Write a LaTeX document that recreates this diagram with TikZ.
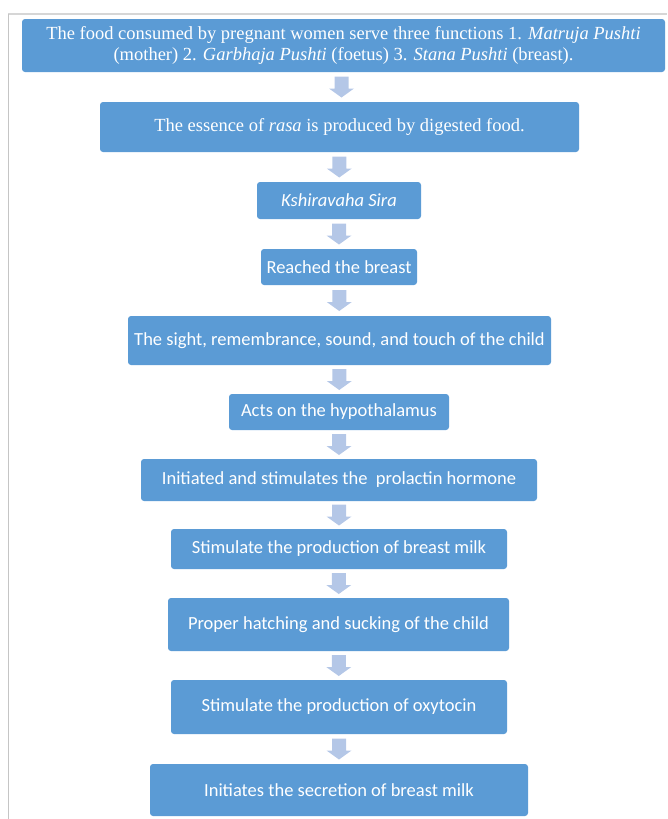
\documentclass[tikz,border=0pt]{standalone}
\usepackage{fontspec}
\setmainfont{Carlito}
\newfontfamily\timesfont{Liberation Serif}

\definecolor{boxblue}{RGB}{91,155,213}
\definecolor{arrowblue}{RGB}{180,199,231}
\definecolor{rulegray}{RGB}{214,214,214}

\tikzset{
  stepbox/.style={fill=boxblue, rounded corners=3pt, text=white, inner sep=0pt,
    align=center, font=\fontsize{18.5}{21}\selectfont},
  pics/downarrow/.style={code={
    \fill[arrowblue] (-7,-10.5) -- (7,-10.5) -- (7,1.5) -- (12.5,1.5) -- (0,10.5)
      -- (-12.5,1.5) -- (-7,1.5) -- cycle;}}
}

\begin{document}
\begin{tikzpicture}[x=1pt, y=-1pt]
  \useasboundingbox (0,0) rectangle (667,819);

  \draw[rulegray, line width=1.5pt] (8,14) -- (667,14);
  \draw[rulegray!80!gray] (8,14) -- (8,819);

  \node[stepbox, minimum width=643pt, minimum height=53pt] (food) at (343.5,45.5)
    {\timesfont The food consumed by pregnant women serve three functions 1. \textit{Matruja Pushti}\\
     \timesfont (mother) 2. \textit{Garbhaja Pushti} (foetus) 3. \textit{Stana Pushti} (breast).};
  \node[stepbox, minimum width=479pt, minimum height=50pt] (rasa) at (339.5,127)
    {\timesfont The essence of \textit{rasa} is produced by digested food.};
  \node[stepbox, minimum width=164pt, minimum height=37pt] (sira) at (339,200.5)
    {\textit{Kshiravaha Sira}};
  \node[stepbox, minimum width=156pt, minimum height=36pt] (breast) at (339,267)
    {Reached the breast};
  \node[stepbox, minimum width=423pt, minimum height=49pt] (sight) at (339.5,340.5)
    {The sight, remembrance, sound, and touch of the child};
  \node[stepbox, minimum width=220pt, minimum height=36pt] (hypo) at (339,412)
    {Acts on the hypothalamus};
  \node[stepbox, minimum width=396pt, minimum height=42pt] (prolactin) at (339,480)
    {Initiated and stimulates the\ \ prolactin hormone};
  \node[stepbox, minimum width=336pt, minimum height=40pt] (milk) at (339,549)
    {Stimulate the production of breast milk};
  \node[stepbox, minimum width=341pt, minimum height=53pt] (suck) at (338.5,624.5)
    {Proper hatching and sucking of the child};
  \node[stepbox, minimum width=336pt, minimum height=54pt] (oxy) at (339,707)
    {Stimulate the production of oxytocin};
  \node[stepbox, minimum width=378pt, minimum height=52pt] (secretion) at (339,790)
    {Initiates the secretion of breast milk};

  \path (food.south) -- (rasa.north) pic[midway] {downarrow};
  \path (rasa.south) -- (sira.north) pic[midway] {downarrow};
  \path (sira.south) -- (breast.north) pic[midway] {downarrow};
  \path (breast.south) -- (sight.north) pic[midway] {downarrow};
  \path (sight.south) -- (hypo.north) pic[midway] {downarrow};
  \path (hypo.south) -- (prolactin.north) pic[midway] {downarrow};
  \path (prolactin.south) -- (milk.north) pic[midway] {downarrow};
  \path (milk.south) -- (suck.north) pic[midway] {downarrow};
  \path (suck.south) -- (oxy.north) pic[midway] {downarrow};
  \path (oxy.south) -- (secretion.north) pic[midway] {downarrow};
\end{tikzpicture}
\end{document}
